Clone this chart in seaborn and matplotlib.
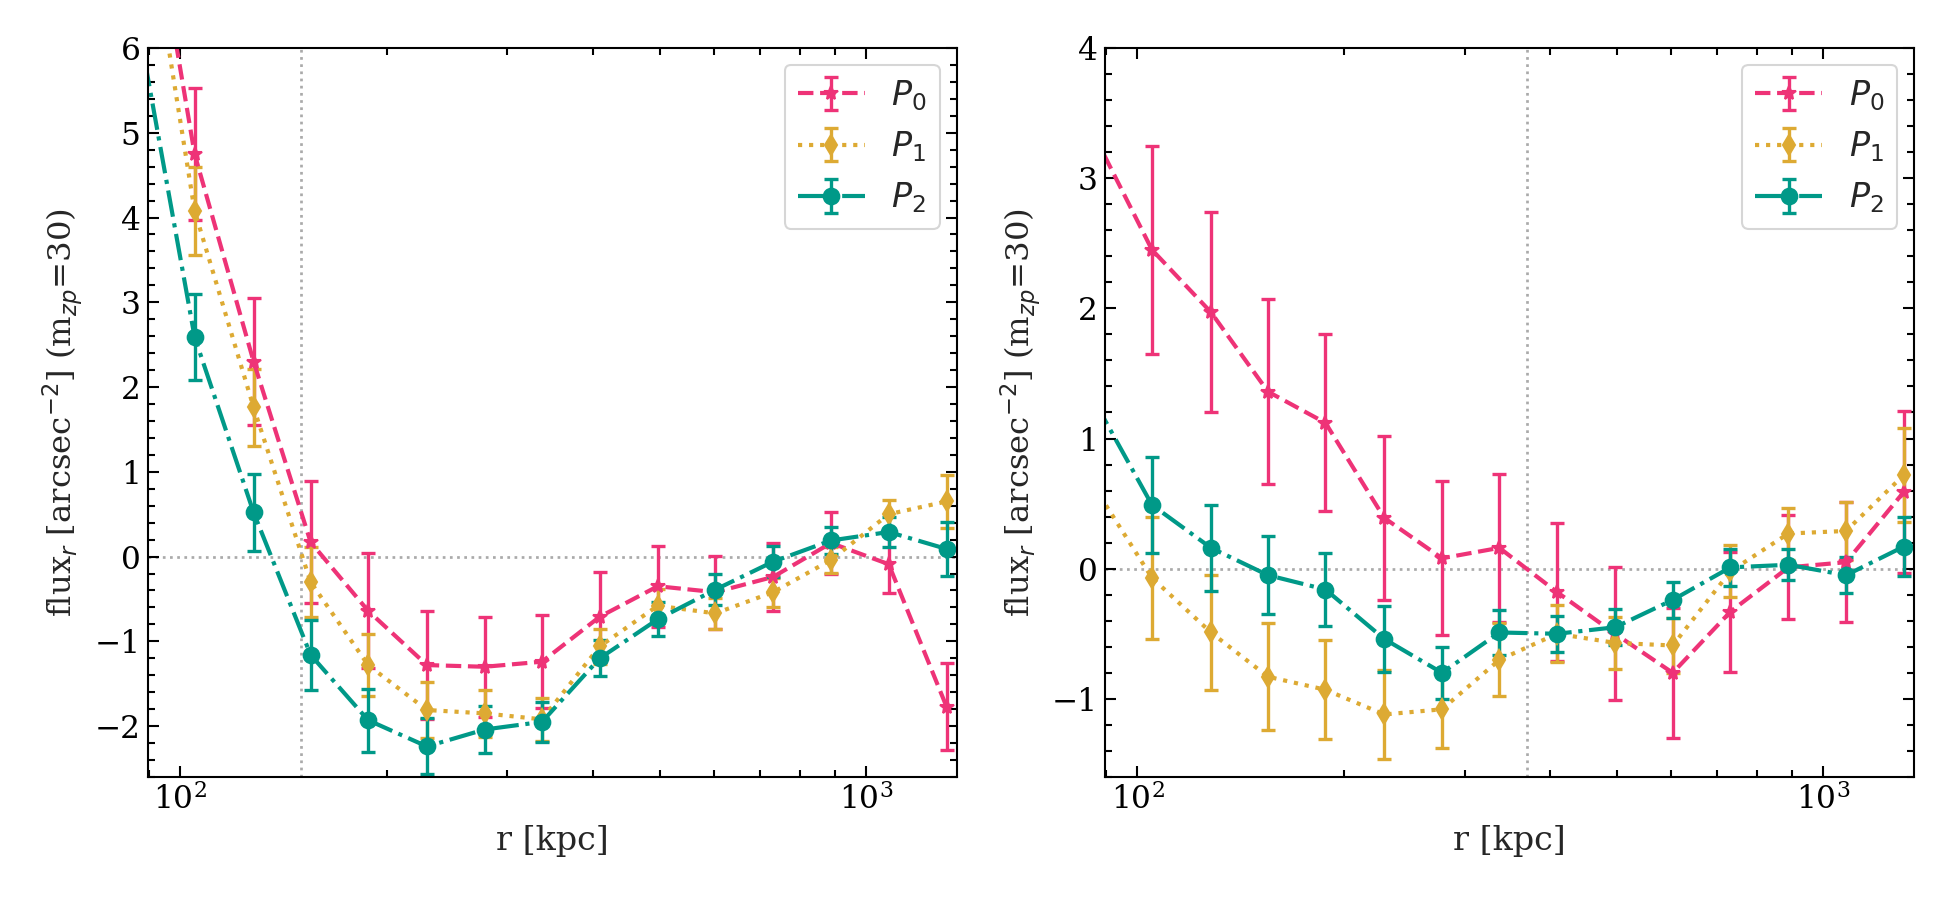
import matplotlib
matplotlib.use("Agg")
import matplotlib.pyplot as plt
from matplotlib.ticker import MultipleLocator, NullFormatter
import seaborn as sns

# radial bins (first one sits just outside the plotted range)
r_kpc = [86.5, 105, 128, 155, 188, 229, 278, 337, 409, 497, 603, 732, 889, 1079, 1310]

# left panel
left_p0 = [8.8, 4.75, 2.30, 0.17, -0.64, -1.28, -1.30, -1.24, -0.71, -0.35, -0.42, -0.24, 0.16, -0.09, -1.77]
left_p0_err = [0.85, 0.78, 0.75, 0.72, 0.68, 0.64, 0.59, 0.55, 0.53, 0.48, 0.43, 0.40, 0.37, 0.34, 0.51]
left_p1 = [8.35, 4.08, 1.76, -0.30, -1.28, -1.81, -1.85, -1.92, -1.06, -0.58, -0.67, -0.42, -0.04, 0.50, 0.65]
left_p1_err = [0.55, 0.52, 0.45, 0.41, 0.37, 0.33, 0.28, 0.25, 0.21, 0.20, 0.18, 0.17, 0.15, 0.17, 0.31]
left_p2 = [6.37, 2.59, 0.52, -1.16, -1.93, -2.24, -2.04, -1.95, -1.20, -0.74, -0.39, -0.06, 0.19, 0.29, 0.09]
left_p2_err = [0.55, 0.51, 0.45, 0.41, 0.37, 0.33, 0.28, 0.24, 0.21, 0.20, 0.18, 0.18, 0.16, 0.18, 0.32]

# right panel
right_p0 = [3.33, 2.45, 1.97, 1.36, 1.12, 0.39, 0.08, 0.16, -0.18, -0.50, -0.80, -0.33, 0.01, 0.05, 0.59]
right_p0_err = [0.85, 0.80, 0.77, 0.71, 0.68, 0.63, 0.59, 0.57, 0.53, 0.51, 0.50, 0.46, 0.40, 0.46, 0.62]
right_p1 = [0.63, -0.07, -0.49, -0.83, -0.93, -1.12, -1.08, -0.70, -0.50, -0.57, -0.59, -0.02, 0.27, 0.29, 0.72]
right_p1_err = [0.50, 0.47, 0.44, 0.41, 0.38, 0.34, 0.30, 0.28, 0.22, 0.20, 0.21, 0.20, 0.20, 0.22, 0.36]
right_p2 = [1.29, 0.49, 0.16, -0.05, -0.16, -0.54, -0.80, -0.49, -0.50, -0.45, -0.24, 0.01, 0.03, -0.05, 0.17]
right_p2_err = [0.40, 0.37, 0.33, 0.30, 0.28, 0.25, 0.20, 0.17, 0.14, 0.14, 0.14, 0.14, 0.12, 0.14, 0.23]

labels = [r'$P_0$', r'$P_1$', r'$P_2$']
colors = ['#EE3377', '#DDAA33', '#009988']
styles = ['--', ':', '-.']
markers = ['*', 'd', 'o']
msizes = [7, 7, 7.5]

r_lines = [150, 370]   # vertical reference radii
ylims = [(-2.6, 6), (-1.6, 4)]

sns.set_theme(style='ticks')
plt.rcParams['font.family'] = ['DejaVu Serif']
plt.rcParams['mathtext.fontset'] = 'dejavusans'
plt.rcParams['font.size'] = 15
plt.rcParams['xtick.direction'] = 'in'
plt.rcParams['ytick.direction'] = 'in'
plt.rcParams['xtick.top'] = True
plt.rcParams['ytick.right'] = True
plt.rcParams['xtick.minor.visible'] = True
plt.rcParams['ytick.minor.visible'] = True
plt.rcParams['axes.edgecolor'] = 'black'
plt.rcParams['axes.linewidth'] = 1.0
plt.rcParams['xtick.color'] = 'black'
plt.rcParams['ytick.color'] = 'black'

fig, axes = plt.subplots(1, 2, figsize=(13, 6), dpi=150)
fig.subplots_adjust(left=0.0759, right=0.9815, bottom=0.1367, top=0.9467, wspace=0.184)

panels = [
    (left_p0, left_p0_err, left_p1, left_p1_err, left_p2, left_p2_err),
    (right_p0, right_p0_err, right_p1, right_p1_err, right_p2, right_p2_err),
]

for k, ax in enumerate(axes):
    vals = panels[k]
    ax.axhline(0, color='#aaaaaa', ls=':', lw=1.3, zorder=0)
    ax.axvline(r_lines[k], color='#aaaaaa', ls=':', lw=1.3, zorder=0)
    for i in range(3):
        ax.errorbar(r_kpc, vals[2 * i], yerr=vals[2 * i + 1], color=colors[i],
                    ls=styles[i], marker=markers[i], ms=msizes[i], lw=2.0,
                    elinewidth=1.6, capsize=3.5, capthick=1.6, label=labels[i])
    ax.set_xscale('log')
    ax.set_xlim(89.8, 1355)
    ax.set_ylim(*ylims[k])
    ax.yaxis.set_major_locator(MultipleLocator(1))
    ax.yaxis.set_minor_locator(MultipleLocator(0.2))
    ax.xaxis.set_minor_formatter(NullFormatter())
    ax.tick_params(which='major', length=5.5, width=1.0, labelsize=15)
    ax.tick_params(which='minor', length=3.2, width=1.0)
    ax.set_xlabel('r [kpc]', fontsize=16)
    ax.set_ylabel(r'flux$_r$ [arcsec$^{-2}$] (m$_{zp}$=30)', fontsize=15.5)
    ax.legend(loc='upper right', fontsize=16)

fig.savefig('out.png', dpi=150)
